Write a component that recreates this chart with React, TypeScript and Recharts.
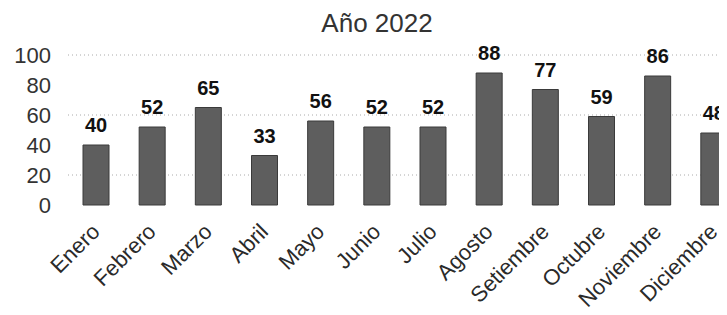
import { Bar, BarChart, CartesianGrid, LabelList, XAxis, YAxis } from 'recharts';

const meses = [
  'Enero',
  'Febrero',
  'Marzo',
  'Abril',
  'Mayo',
  'Junio',
  'Julio',
  'Agosto',
  'Setiembre',
  'Octubre',
  'Noviembre',
  'Diciembre',
];
const valores = [40, 52, 65, 33, 56, 52, 52, 88, 77, 59, 86, 48];
const ticksY = [0, 20, 40, 60, 80, 100];
const lineasGrid = [20, 60, 100];

const datos = meses.map((mes, i) => ({ mes, valor: valores[i] }));

const fuente = '"Liberation Sans", Arial, sans-serif';

const TickMes = ({ x, y, payload }: any) => (
  <g transform={`translate(${x + 5},${y + 20})`}>
    <text
      textAnchor="end"
      transform="rotate(-45)"
      fontSize={22}
      fontFamily={fuente}
      fill="#2a2a2a"
    >
      {payload.value}
    </text>
  </g>
);

export default function App() {
  return (
    <div style={{ width: 719, height: 307, overflow: 'hidden', position: 'relative' }}>
      <div
        style={{
          position: 'absolute',
          left: 0,
          width: 719,
          top: 0,
          textAlign: 'center',
          fontFamily: fuente,
          fontSize: 26,
          color: '#333',
          paddingLeft: 19,
          boxSizing: 'border-box',
        }}
      >
        Año 2022
      </div>
      <BarChart
        width={740}
        height={307}
        data={datos}
        margin={{ top: 47, right: 6, left: 0, bottom: 0 }}
        barCategoryGap={0}
      >
        <CartesianGrid
          vertical={false}
          horizontalValues={lineasGrid}
          stroke="#aaa"
          strokeDasharray="1 3"
        />
        <XAxis
          dataKey="mes"
          interval={0}
          height={110}
          axisLine={false}
          tickLine={false}
          tick={<TickMes />}
        />
        <YAxis
          width={60}
          domain={[0, 100]}
          ticks={ticksY}
          interval={0}
          axisLine={false}
          tickLine={false}
          tickSize={6}
          tickMargin={11}
          tick={{ fontSize: 22, fontFamily: fuente, fill: '#333' }}
        />
        <Bar
          dataKey="valor"
          barSize={26}
          fill="#5e5e5e"
          stroke="#3a3a3a"
          isAnimationActive={false}
        >
          <LabelList
            dataKey="valor"
            position="top"
            offset={13}
            fontSize={20}
            fontWeight="bold"
            fontFamily={fuente}
            fill="#111"
          />
        </Bar>
      </BarChart>
    </div>
  );
}
